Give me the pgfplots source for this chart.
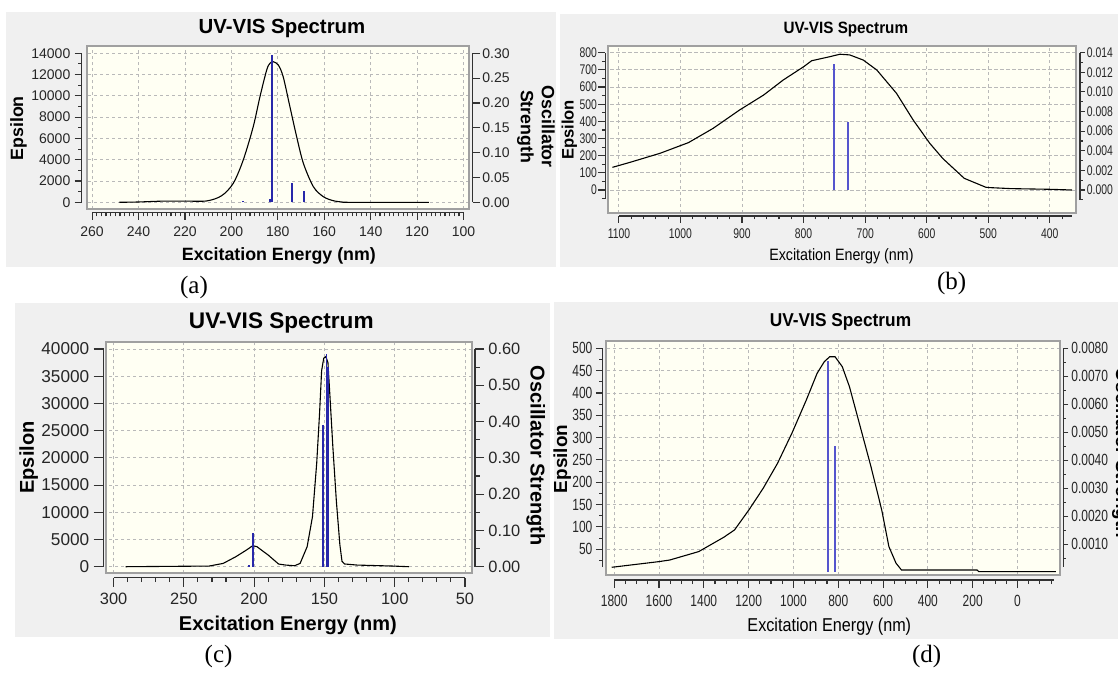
\documentclass[border=0pt]{standalone}
\usepackage{pgfplots}
\pgfplotsset{compat=1.18}
\usepackage{fontspec}
\setmainfont{Liberation Sans}
\newfontfamily\arial{Liberation Sans}
\newfontfamily\narrowtick[FakeStretch=0.74]{Liberation Sans}
\newfontfamily\narrowlab[FakeStretch=0.87]{Liberation Sans}
\newfontfamily\narrowtitle[FakeStretch=0.93]{Liberation Sans}
\newfontfamily\timesfont{Liberation Serif}

\newcommand\tickA{\arial\fontsize{7}{8.4}\selectfont}
\newcommand\titleA{\arial\bfseries\fontsize{10.2}{12}\selectfont}
\newcommand\labA{\arial\bfseries\fontsize{8.9}{10.5}\selectfont}
\newcommand\tickC{\arial\fontsize{8.2}{9.8}\selectfont}
\newcommand\tickCl{\arial\fontsize{8.6}{10.3}\selectfont}
\newcommand\titleC{\arial\bfseries\fontsize{11.3}{13.5}\selectfont}
\newcommand\labC{\arial\bfseries\fontsize{10}{12}\selectfont}
\newcommand\tickB{\narrowtick\fontsize{7}{8.4}\selectfont}
\newcommand\titleB{\narrowtitle\bfseries\fontsize{8.2}{10}\selectfont}
\newcommand\labB{\narrowlab\fontsize{8.2}{10}\selectfont}
\newcommand\epsB{\arial\bfseries\fontsize{8.3}{10}\selectfont}
\newcommand\tickD{\narrowtick\fontsize{8.1}{9.7}\selectfont}
\newcommand\titleD{\narrowtitle\bfseries\fontsize{9.3}{11}\selectfont}
\newcommand\labD{\narrowlab\fontsize{9.3}{11}\selectfont}
\newcommand\epsD{\arial\bfseries\fontsize{9.45}{11}\selectfont}
\newcommand\capfont{\timesfont\fontsize{12.5}{15}\selectfont}

\definecolor{panelbg}{RGB}{240,240,240}
\definecolor{plotbg}{RGB}{255,255,243}
\definecolor{framecol}{RGB}{160,160,160}
\definecolor{gridcol}{RGB}{185,185,185}
\definecolor{axcol}{RGB}{50,50,50}
\definecolor{stickA}{RGB}{40,40,170}
\definecolor{stickB}{RGB}{85,85,205}

% axis lines of the tick axes, drawn along the axis edge
\newcommand\bline{\draw[axcol, line width=0.55pt] (rel axis cs:0,0) -- (rel axis cs:1,0);}
\newcommand\lline{\draw[axcol, line width=0.55pt] (rel axis cs:0,0) -- (rel axis cs:0,1);}
\newcommand\rline{\draw[axcol, line width=0.55pt] (rel axis cs:1,0) -- (rel axis cs:1,1);}

\pgfplotsset{
  box/.style={scale only axis, x dir=reverse, scaled ticks=false,
    axis background/.style={fill=plotbg},
    axis line style={draw=framecol, line width=0.9pt},
    xmajorgrids, ymajorgrids,
    grid style={gridcol, line width=0.4pt, dash pattern=on 1.6pt off 1.4pt},
    tick style={draw=none}, xticklabels={}, yticklabels={}},
  sticks/.style={scale only axis, x dir=reverse, hide axis, clip=false},
  curve/.style={black, line width=0.55pt, no marks},
  tickaxis/.style={scale only axis, clip=false,
    axis line style={draw=none},
    tick align=outside, tick style={draw=axcol, line width=0.55pt},
    scaled ticks=false,
    /pgf/number format/assume math mode=true,
    /pgf/number format/1000 sep={},
    tick label style={text=black!85, inner sep=0pt}},
  bx/.style={axis x line=bottom, hide y axis, x dir=reverse, tickaxis, height=1pt, ymin=0, ymax=1},
  ly/.style={axis y line=left, hide x axis, tickaxis, width=1pt, xmin=0, xmax=1},
  ry/.style={axis y line=right, hide x axis, tickaxis, width=1pt, xmin=0, xmax=1, anchor=south east},
}

\begin{document}
\begin{tikzpicture}
\path[use as bounding box] (0pt,0pt) rectangle (559pt,-337.5pt);
\begin{scope}[x=0.5pt,y=-0.5pt]
\fill[panelbg] (6.4,12) rectangle (556,267);
\fill[panelbg] (560,14) rectangle (1118,266.7);
\fill[panelbg] (15,303.3) rectangle (550,637.3);
\fill[panelbg] (554,302) rectangle (1118,639.3);
\end{scope}

% ---------------- (a) ----------------
\begin{axis}[box, at={(43.4pt,-104.5pt)}, width=191.1pt, height=81.5pt,
  xmin=97.67, xmax=262.28, ymin=-629.5, ymax=14686,
  xtick={100,120,...,260}, ytick={0,2000,...,14000}]
\addplot[curve, smooth, tension=0.5] coordinates {
  (248.3,0) (240,30) (229.6,110) (220,115) (210.6,130) (204.2,620)
  (199.2,1785) (194.9,3975) (190.6,7103) (187.7,9922) (184.8,12431)
  (183.4,13060) (182.0,13210) (179.8,12900) (177.7,11800) (174.8,8983)
  (171.9,6164) (169.0,3664) (164.7,1466) (160.4,526) (156.1,150)
  (152,20) (149,0) (115,0)};
\end{axis}
\begin{axis}[sticks, at={(43.4pt,-104.5pt)}, width=191.1pt, height=81.5pt,
  xmin=97.67, xmax=262.28, ymin=-0.01349, ymax=0.3147]
\addplot[ycomb, stickA, line width=1pt, no marks] coordinates {
  (194.9,0.002) (183.4,0.006) (182.4,0.2966) (174.0,0.0383) (168.7,0.0234)};
\end{axis}
\begin{axis}[bx, at={(46.05pt,-106.15pt)}, width=185.75pt, xmin=100, xmax=260,
  xtick={100,120,...,260}, minor tick num=9,
  major tick length=3.85pt, minor tick length=2pt,
  tick label style={font=\tickA}, xticklabel shift=3.4pt]
\bline
\end{axis}
\begin{axis}[ly, at={(40.85pt,-101.15pt)}, height=74.5pt, ymin=0, ymax=14000,
  ytick={0,2000,...,14000}, minor tick num=1,
  major tick length=3.5pt, minor tick length=1.75pt,
  tick label style={font=\tickA}, yticklabel shift=2pt]
\lline
\end{axis}
\begin{axis}[ry, at={(236.25pt,-101.15pt)}, height=74.5pt, ymin=0, ymax=0.3,
  ytick={0,0.05,0.1,0.15,0.2,0.25,0.3},
  major tick length=3.75pt,
  tick label style={font=\tickA}, yticklabel shift=1pt,
  yticklabel style={/pgf/number format/.cd, fixed, fixed zerofill, precision=2}]
\rline
\end{axis}

% ---------------- (b) ----------------
\begin{axis}[box, at={(304.05pt,-106.35pt)}, width=233.75pt, height=83.35pt,
  xmin=358.1, xmax=1117.5, ymin=-132.3, ymax=839,
  xtick={400,500,...,1100}, ytick={0,100,...,800}]
\addplot[curve] coordinates {
  (1110.5,132) (1082,161) (1033,214) (987,276) (947,359) (904,466)
  (865,553) (833,641) (800,718) (787,753) (757,777) (741,791) (725,787)
  (703,757) (681,699) (649,563) (622,408) (595,272) (574,184) (539,68)
  (504,16) (498,14) (463,8) (399,4) (364,0)};
\end{axis}
\begin{axis}[sticks, at={(304.05pt,-106.35pt)}, width=233.75pt, height=83.35pt,
  xmin=358.1, xmax=1117.5, ymin=-0.002315, ymax=0.014683]
\addplot[ycomb, stickB, line width=1pt, no marks] coordinates {
  (750.6,0.01285) (727.3,0.0069)};
\end{axis}
\begin{axis}[bx, at={(309.45pt,-108pt)}, width=226.55pt, xmin=364, xmax=1100,
  xtick={400,500,...,1100}, minor xtick={380,400,...,1100},
  major tick length=3.35pt, minor tick length=1.7pt,
  tick label style={font=\tickB}, xticklabel shift=2.65pt]
\bline
\end{axis}
\begin{axis}[ly, at={(302.65pt,-99.3pt)}, height=72.95pt, ymin=-50, ymax=800,
  ytick={0,100,...,800}, minor ytick={-50,0,...,800},
  major tick length=3.5pt, minor tick length=1.75pt,
  tick label style={font=\tickB}, yticklabel shift=0.5pt]
\lline
\end{axis}
\begin{axis}[ry, at={(540pt,-99.9pt)}, height=73.55pt, ymin=-0.001, ymax=0.014,
  ytick={0,0.002,0.004,0.006,0.008,0.01,0.012,0.014},
  minor ytick={-0.001,0.001,0.003,0.005,0.007,0.009,0.011,0.013},
  major tick length=2.5pt, minor tick length=1.3pt,
  tick label style={font=\tickB}, yticklabel shift=0.75pt,
  yticklabel style={/pgf/number format/.cd, fixed, fixed zerofill, precision=3}]
\rline
\end{axis}

% ---------------- (c) ----------------
\begin{axis}[box, at={(53.2pt,-286.65pt)}, width=182.85pt, height=115.8pt,
  xmin=44.95, xmax=305.1, ymin=-1212.7, ymax=41341,
  xtick={50,100,...,300}, ytick={0,5000,...,40000}]
\addplot[curve] coordinates {
  (291.4,0) (232,120) (222,610) (213,1840) (205.5,3060) (201,3860)
  (198,3675) (190,2140) (182.6,490) (177.5,300) (171.2,180) (167.3,610)
  (162.3,3675) (158.5,9190) (155.5,19000) (153.5,28000) (152,36000)
  (150.5,38300) (149,38600) (147.5,37500) (146,31000) (144,22000)
  (141.5,12000) (139,4000) (137.5,1000) (135.6,500) (126.7,300)
  (101.3,120) (89.9,0)};
\end{axis}
\begin{axis}[sticks, at={(53.2pt,-286.65pt)}, width=182.85pt, height=115.8pt,
  xmin=44.95, xmax=305.1, ymin=-0.01819, ymax=0.62012]
\addplot[ycomb, stickA, line width=0.8pt, no marks] coordinates {
  (203.7,0.0046) (200.9,0.0937) (150.9,0.390) (148.6,0.585) (147.4,0.55)};
\end{axis}
\begin{axis}[bx, at={(56.8pt,-288.85pt)}, width=175.7pt, xmin=50, xmax=300,
  xtick={50,100,...,300}, minor tick num=4,
  major tick length=4.5pt, minor tick length=2.25pt,
  tick label style={font=\tickC}, xticklabel shift=2.85pt]
\bline
\end{axis}
\begin{axis}[ly, at={(51.8pt,-283.35pt)}, height=108.85pt, ymin=0, ymax=40000,
  ytick={0,5000,...,40000},
  major tick length=5pt,
  tick label style={font=\tickCl}, yticklabel shift=2pt]
\lline
\end{axis}
\begin{axis}[ry, at={(237.5pt,-283.35pt)}, height=108.85pt, ymin=0, ymax=0.6,
  ytick={0,0.1,0.2,0.3,0.4,0.5,0.6}, minor tick num=1,
  major tick length=4.5pt, minor tick length=2.25pt,
  tick label style={font=\tickC}, yticklabel shift=2pt,
  yticklabel style={/pgf/number format/.cd, fixed, fixed zerofill, precision=2}]
\rline
\end{axis}

% ---------------- (d) ----------------
\begin{axis}[box, at={(303.15pt,-287.5pt)}, width=226.95pt, height=117pt,
  xmin=-190.6, xmax=1835.3, ymin=-7.6, ymax=516.3,
  xtick={0,200,...,1800}, ytick={50,100,...,500}]
\addplot[curve] coordinates {
  (1811,9.7) (1600,22.4) (1552,26) (1423,44.8) (1311,76.9) (1263,93.3)
  (1199,138) (1135,186.6) (1071,242.5) (1007,309.7) (942.5,384.3)
  (894.4,444) (862.4,470) (838.3,481) (814.3,481) (782.2,459) (750,414)
  (702,324.6) (654,235) (606,138) (574,56) (542,18.7) (518,3.7)
  (181,3.7) (173,0) (-171,0)};
\end{axis}
\begin{axis}[sticks, at={(303.15pt,-287.5pt)}, width=226.95pt, height=117pt,
  xmin=-190.6, xmax=1835.3, ymin=-0.0001216, ymax=0.008261]
\addplot[ycomb, stickB, line width=1pt, no marks] coordinates {
  (846.3,0.00755) (814.3,0.00451)};
\end{axis}
\begin{axis}[bx, at={(307.1pt,-290pt)}, width=219.9pt, xmin=-163, xmax=1800,
  xtick={0,200,...,1800}, minor xtick={-150,-100,...,1800},
  major tick length=4pt, minor tick length=2pt,
  tick label style={font=\tickD}, xticklabel shift=3.6pt]
\bline
\end{axis}
\begin{axis}[ly, at={(301.4pt,-283.55pt)}, height=109.4pt, ymin=10, ymax=500,
  ytick={50,100,...,500}, minor ytick={25,75,...,475},
  major tick length=3.5pt, minor tick length=1.75pt,
  tick label style={font=\tickD}, yticklabel shift=1.5pt]
\lline
\end{axis}
\begin{axis}[ry, at={(531.65pt,-283.35pt)}, height=109.2pt, ymin=0.0002, ymax=0.008,
  ytick={0.001,0.002,0.003,0.004,0.005,0.006,0.007,0.008},
  minor ytick={0.0005,0.0015,0.0025,0.0035,0.0045,0.0055,0.0065,0.0075},
  major tick length=2.5pt, minor tick length=1.3pt,
  tick label style={font=\tickD}, yticklabel shift=1.35pt,
  yticklabel style={/pgf/number format/.cd, fixed, fixed zerofill, precision=4}]
\rline
\end{axis}

% ---------------- texts ----------------
\begin{scope}[x=0.5pt,y=-0.5pt]
\node[anchor=base, font=\titleA] at (282,33.3) {UV-VIS Spectrum};
\node[anchor=base, font=\labA] at (278.9,260.7) {Excitation Energy (nm)};
\node[rotate=90, font=\labA] at (18.6,128.3) {Epsilon};
\node[rotate=-90, font=\labA, align=center] at (536,126.7) {Oscillator\\Strength};
\node[font=\capfont] at (194,287) {(a)};

\node[anchor=base, font=\titleB] at (845.8,33.3) {UV-VIS Spectrum};
\node[anchor=base, font=\labB] at (841.4,260) {Excitation Energy (nm)};
\node[rotate=90, font=\epsB] at (569.4,130) {Epsilon};
\node[font=\capfont] at (951.7,283) {(b)};

\node[anchor=base, font=\titleC] at (281.3,328.3) {UV-VIS Spectrum};
\node[anchor=base, font=\labC] at (287.9,630) {Excitation Energy (nm)};
\node[rotate=90, font=\labC] at (28.6,457.5) {Epsilon};
\node[rotate=-90, font=\labC] at (535.7,455.8) {Oscillator Strength};
\node[font=\capfont] at (218.6,656) {(c)};

\node[anchor=base, font=\titleD] at (840.5,326) {UV-VIS Spectrum};
\node[anchor=base, font=\labD] at (829.3,631.7) {Excitation Energy (nm)};
\node[rotate=90, font=\epsD] at (562.2,459) {Epsilon};
\node[rotate=-90, inner sep=0pt, font=\epsD] at (1121,453) {Oscillator Strength};
\node[font=\capfont] at (926.6,656) {(d)};
\end{scope}
\end{tikzpicture}
\end{document}
